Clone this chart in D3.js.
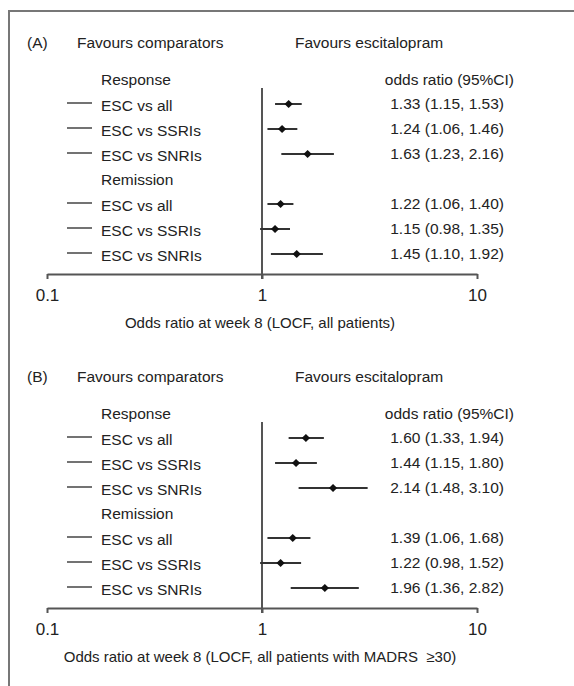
<!DOCTYPE html>
<html>
<head>
<meta charset="utf-8">
<script src="https://cdn.jsdelivr.net/npm/d3@7"></script>
<style>
  body { margin: 0; background: #fff; }
  text { font-family: "Liberation Sans", Arial, sans-serif; fill: #222; }
</style>
</head>
<body>
<div id="chart-area"></div>
<script>
// data
var groups = ["Response", "Remission"];
var comparisons = ["ESC vs all", "ESC vs SSRIs", "ESC vs SNRIs"];
var tickValues = [0.1, 1, 10];
var tickLabels = ["0.1", "1", "10"];

var panelTags = ["(A)", "(B)"];
var axisTitles = [
  "Odds ratio at week 8 (LOCF, all patients)",
  "Odds ratio at week 8 (LOCF, all patients with MADRS  \u226530)"
];

// panel A: response x3 then remission x3
var orA = [1.33, 1.24, 1.63, 1.22, 1.15, 1.45];
var loA = [1.15, 1.06, 1.23, 1.06, 0.98, 1.10];
var hiA = [1.53, 1.46, 2.16, 1.40, 1.35, 1.92];
// panel B
var orB = [1.60, 1.44, 2.14, 1.39, 1.22, 1.96];
var loB = [1.33, 1.15, 1.48, 1.06, 0.98, 1.36];
var hiB = [1.94, 1.80, 3.10, 1.68, 1.52, 2.82];

var width = 574, height = 686;

var svg = d3.select("#chart-area")
  .append("svg")
  .attr("width", width)
  .attr("height", height);

// frame (top and left edges only visible)
svg.append("path")
  .attr("d", "M9,686 L9,11 L574,11")
  .attr("fill", "none")
  .attr("stroke", "#777")
  .attr("stroke-width", 2);

var x = d3.scaleLog()
  .domain([0.1, 10])
  .range([47, 477]);

// row index 0 = Response header, 4 = Remission header
var row = d3.scaleLinear().domain([0, 1]).range([0, 25]);

function fmt(v) { return v.toFixed(2); }

function drawPanel(p, top, ors, los, his) {
  var g = svg.append("g").attr("transform", "translate(0," + top + ")");

  g.append("text").attr("x", 27).attr("y", 43).attr("dy", "0.35em")
    .style("font-size", "15.5px").text(panelTags[p]);
  g.append("text").attr("x", 77).attr("y", 43).attr("dy", "0.35em")
    .style("font-size", "15.5px").text("Favours comparators");
  g.append("text").attr("x", 295).attr("y", 43).attr("dy", "0.35em")
    .style("font-size", "15.5px").text("Favours escitalopram");

  var y0 = 80;
  g.append("text").attr("x", 514).attr("y", y0).attr("dy", "0.35em")
    .attr("text-anchor", "end").style("font-size", "15.5px")
    .text("odds ratio (95%CI)");

  // rows
  var rows = [];
  groups.forEach(function (grp, gi) {
    rows.push({ header: grp, i: gi * 4 });
    comparisons.forEach(function (c, ci) {
      var k = gi * 3 + ci;
      rows.push({ label: c, i: gi * 4 + ci + 1, or: ors[k], lo: los[k], hi: his[k] });
    });
  });

  // reference line at 1
  g.append("line")
    .attr("x1", x(1)).attr("x2", x(1))
    .attr("y1", 88).attr("y2", 279)
    .attr("stroke", "#555").attr("stroke-width", 2);

  rows.forEach(function (r) {
    var yy = y0 + row(r.i);
    if (r.header) {
      g.append("text").attr("x", 101).attr("y", yy).attr("dy", "0.35em")
        .style("font-size", "15.5px").text(r.header);
      return;
    }
    g.append("line")
      .attr("x1", 67).attr("x2", 92).attr("y1", yy - 2).attr("y2", yy - 2)
      .attr("stroke", "#444").attr("stroke-width", 1.5);
    g.append("text").attr("x", 101).attr("y", yy + 1).attr("dy", "0.35em")
      .style("font-size", "15.5px").text(r.label);

    g.append("line")
      .attr("x1", x(r.lo)).attr("x2", x(r.hi))
      .attr("y1", yy - 1).attr("y2", yy - 1)
      .attr("stroke", "#333").attr("stroke-width", 2);
    g.append("path")
      .attr("d", d3.symbol().type(d3.symbolSquare).size(34)())
      .attr("transform", "translate(" + x(r.or) + "," + (yy - 1) + ") rotate(45)")
      .attr("fill", "#111");

    g.append("text").attr("x", 504).attr("y", yy - 1).attr("dy", "0.35em")
      .attr("text-anchor", "end").style("font-size", "15.5px")
      .text(fmt(r.or) + " (" + fmt(r.lo) + ", " + fmt(r.hi) + ")");
  });

  // axis
  var axis = d3.axisBottom(x)
    .tickValues(tickValues)
    .tickFormat(function (d, i) { return tickLabels[i]; })
    .tickSize(5)
    .tickSizeOuter(0)
    .tickPadding(10);

  var ax = g.append("g")
    .attr("transform", "translate(0,274)")
    .call(axis);
  ax.select(".domain").attr("stroke", "#555").attr("stroke-width", 2);
  ax.selectAll(".tick line").attr("stroke", "#555").attr("stroke-width", 2);
  ax.selectAll(".tick text")
    .style("font-size", "17px")
    .style("font-family", "\"Liberation Sans\", Arial, sans-serif")
    .attr("fill", "#222");

  g.append("text").attr("x", 260).attr("y", 323).attr("dy", "0.35em")
    .attr("text-anchor", "middle").style("font-size", "15px")
    .style("white-space", "pre")
    .text(axisTitles[p]);
}

drawPanel(0, 0, orA, loA, hiA);
drawPanel(1, 334, orB, loB, hiB);
</script>
</body>
</html>
